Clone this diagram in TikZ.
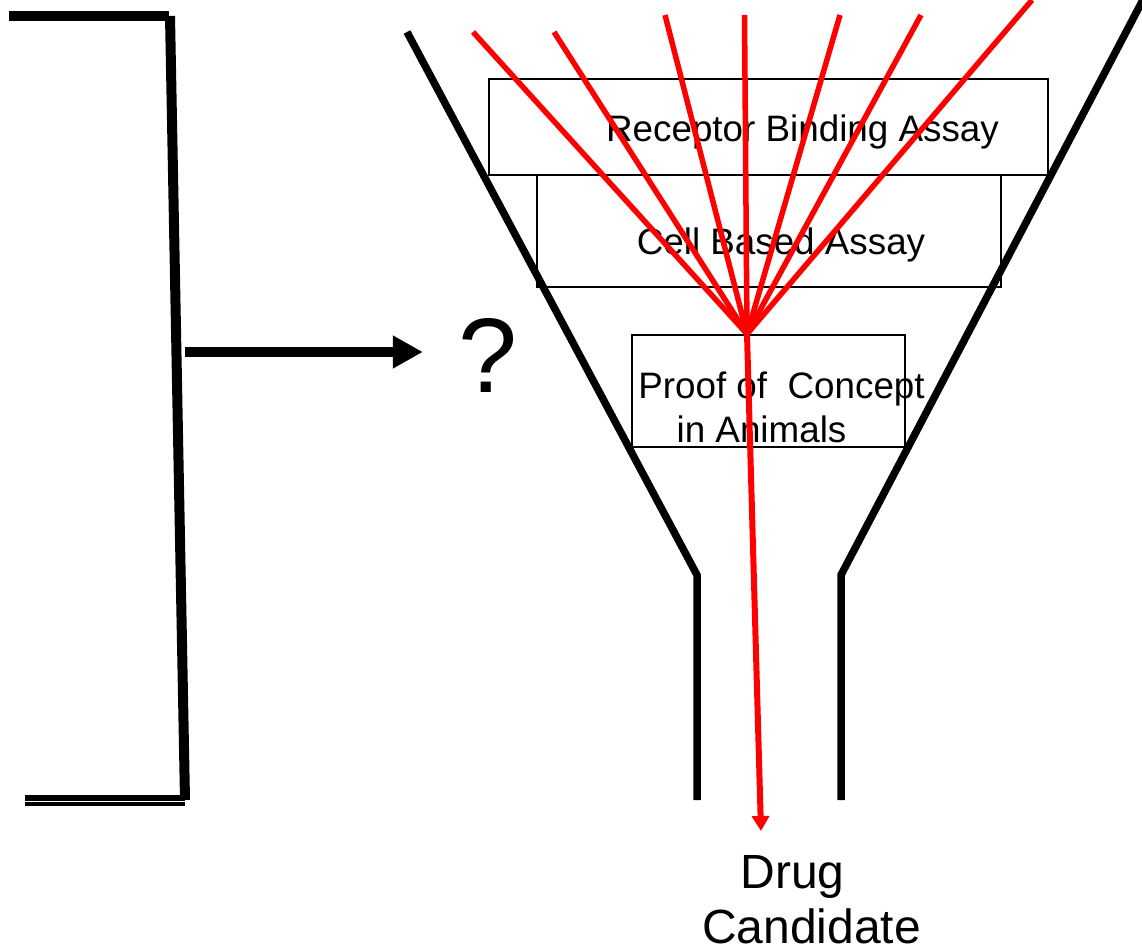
\documentclass[tikz,border=0pt]{standalone}
\usepackage{fontspec}
\setmainfont{Liberation Sans}
\usepackage{xcolor}
\definecolor{cInk}{HTML}{000000}
\definecolor{cRay}{HTML}{FF0000}
\usepackage{tikz}
\usetikzlibrary{positioning,arrows.meta}
\tikzset{
  assay-box/.style={draw=cInk,line width=1.8pt,inner sep=0pt},
  assay-text/.style={inner sep=0pt,anchor=base,font=\fontsize{36.8pt}{44pt}\selectfont},
  result-text/.style={inner sep=0pt,anchor=base,font=\fontsize{48pt}{56pt}\selectfont},
  funnel-wall/.style={draw=cInk,line width=7.5pt},
  bracket-line/.style={draw=cInk,line width=10pt},
  arrow-black/.style={-{Triangle[length=30pt,width=31pt]},draw=cInk,line width=10pt},
  ray/.style={draw=cRay,line width=5.5pt},
  ray-out/.style={-{Triangle[length=15pt,width=17pt]},draw=cRay,line width=6pt},
}

\begin{document}
\begin{tikzpicture}[x=1pt,y=-1pt]
  \useasboundingbox (0,0) rectangle (1142,949);

  % screening stages
  \node[assay-box,minimum width=559pt,minimum height=96pt] (rba) at (768.5,127) {};
  \node[assay-box,minimum width=464pt,minimum height=112pt] (cba) at (769,231) {};
  \node[assay-box,minimum width=273pt,minimum height=112pt] (poc) at (768.5,391) {};
  \node[assay-text] (rba-label) at (802.5,142) {Receptor Binding Assay};
  \node[assay-text] (cba-label) at (781,255) {Cell Based Assay};
  \node[assay-text] (poc-label-a) at (781.5,398) {Proof of\ \ Concept};
  \node[assay-text] (poc-label-b) at (761.5,442) {in Animals};
  \node[result-text] (drug) at (792.5,888) {Drug};
  \node[result-text] (cand) at (811.5,943) {Candidate};
  \node[inner sep=0pt,anchor=base,font=\fontsize{106pt}{110pt}\selectfont] (query) at (488,392) {?};

  % bracket
  \draw[bracket-line] (9,16.5) -- (169,16.5);
  \draw[bracket-line] (170,16) -- (185,800);
  \draw[draw=cInk,line width=6pt] (25,798) -- (185,798);
  \draw[draw=cInk,line width=4pt] (25,804) -- (185,804);
  \coordinate (bracket-mid) at (185,352);
  \draw[arrow-black,shorten >=35.5pt] (bracket-mid) -- (bracket-mid -| query.west);

  % funnel
  \draw[funnel-wall] (407,32) -- (697,575) -- (697,800);
  \draw[funnel-wall] (1146,-6) -- (841,575) -- (841,800);

  % candidates
  \coordinate (hub) at (747,334);
  \foreach \sx/\sy [count=\i] in {473/32,554/32,665/15,744.5/15,840/15,921/15,1032/0}{
    \coordinate (src-\i) at (\sx,\sy);
    \draw[ray] (src-\i) -- (hub);
  }
  \coordinate (drop) at (761,831);
  \draw[ray-out] (hub) -- (drop);
\end{tikzpicture}
\end{document}
